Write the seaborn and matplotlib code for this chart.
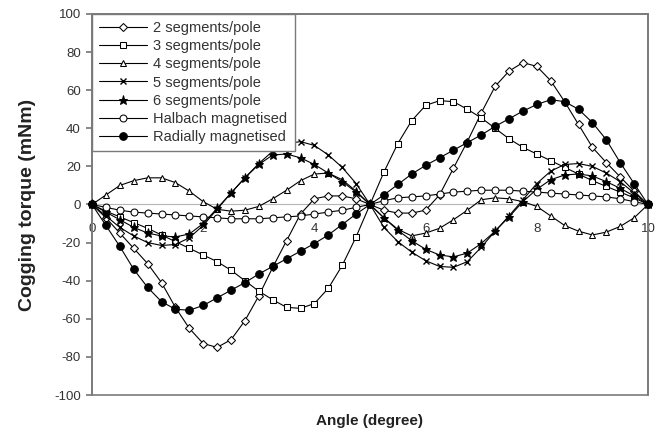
import matplotlib
matplotlib.use("Agg")
import matplotlib.pyplot as plt
from matplotlib.patches import Rectangle
import seaborn as sns

# ---------------- data ----------------
angle = [0, 0.25, 0.5, 0.75, 1.0, 1.25, 1.5, 1.75, 2.0, 2.25, 2.5, 2.75, 3.0, 3.25,
         3.5, 3.75, 4.0, 4.25, 4.5, 4.75, 5.0, 5.25, 5.5, 5.75, 6.0, 6.25, 6.5, 6.75,
         7.0, 7.25, 7.5, 7.75, 8.0, 8.25, 8.5, 8.75, 9.0, 9.25, 9.5, 9.75, 10.0]

seg2 = [0, -7, -15, -23, -31, -41, -54, -65, -73, -75, -71, -61, -48, -33, -19, -5,
        3, 4.5, 4.5, 3, 0, -3, -4.5, -4.5, -3, 5, 19, 33, 48, 62, 70, 74.5, 72.5, 65,
        54, 42, 30, 22, 14.5, 7, 0]
seg3 = [0, -3.5, -6.5, -9.5, -12.5, -16, -19.5, -23, -26.5, -30, -34.5, -40, -45.5,
        -50, -54, -54.5, -52, -44, -32, -17, 0, 17, 32, 44, 52, 54.5, 54, 50, 45.5, 40,
        34.5, 30, 26.5, 23, 19.5, 16, 12.5, 9.5, 6.5, 3.5, 0]
seg4 = [0, 5, 10, 12.5, 14, 14, 11.5, 7, 1.5, -2.5, -3.5, -3, -1, 3, 7.5, 12.5, 16,
        16.5, 13, 7, 0, -7, -13, -16.5, -15, -12.5, -8, -3, 2.5, 3.5, 3, 1.5, -1, -6,
        -11, -14, -16, -14.5, -11.5, -7, 0]
seg5 = [0, -6, -12, -16.5, -20, -21.5, -21, -17.5, -11, -2.5, 6, 14, 21.5, 28, 32,
        33, 31, 26, 19.5, 11, 0, -12, -19.5, -25, -29.5, -32.5, -33, -30, -22.5, -14,
        -6, 2.5, 11, 17.5, 21, 21.5, 20, 16.5, 12, 6, 0]
seg6 = [0, -4, -8, -12, -15, -16.5, -17, -15.5, -10, -2, 6, 14, 21, 26, 26.5, 24.5,
        21, 16.5, 12, 6.5, 0, -7, -13.5, -19, -23.5, -26.5, -27.5, -25.5, -20.5, -14,
        -6.5, 1.5, 8, 13, 15.5, 16, 15, 12, 8.5, 4.5, 0]
halbach = [0, -1.5, -3, -4, -4.5, -5, -5.5, -6, -6.5, -7, -7.5, -7.5, -7.5, -7, -6.5,
           -6, -5, -4, -3, -1.5, 0, 2, 3.5, 4, 4.5, 5.5, 6.5, 7, 7.5, 7.5, 7.5, 7,
           6.5, 6, 5.5, 5, 4.5, 4, 3, 1.5, 0]
radial = [0, -11, -22, -34, -43.5, -51, -55, -55.5, -53, -49, -45, -41, -36.5, -32.5,
          -28.5, -24.5, -20.5, -16, -10.5, -5, 0, 5, 10.5, 16, 20.5, 24.5, 28.5, 32.5,
          36.5, 41, 45, 49, 52.5, 55, 54, 50, 43, 34, 22, 11, 0]

labels = ["2 segments/pole", "3 segments/pole", "4 segments/pole", "5 segments/pole",
          "6 segments/pole", "Halbach magnetised", "Radially magnetised"]
xticks = [0, 2, 4, 6, 8, 10]
yticks = [-100, -80, -60, -40, -20, 0, 20, 40, 60, 80, 100]

# ---------------- style ----------------
sns.set_theme(style="white")
plt.rcParams["font.family"] = ["Liberation Sans", "DejaVu Sans"]

fig = plt.figure(figsize=(6.58, 4.36), dpi=100)
ax = fig.add_axes([92 / 658, 41 / 436, 556 / 658, 381 / 436])

styles = [
    dict(marker="D", markersize=4, markerfacecolor="white"),
    dict(marker="s", markersize=5, markerfacecolor="white"),
    dict(marker="^", markersize=5, markerfacecolor="white"),
    dict(marker="x", markersize=5, markeredgewidth=1.0),
    dict(marker="*", markersize=6.5, markerfacecolor="black"),
    dict(marker="o", markersize=5, markerfacecolor="white"),
    dict(marker="o", markersize=5.5, markerfacecolor="black"),
]
series = [seg2, seg3, seg4, seg5, seg6, halbach, radial]

for vals, lab, st in zip(series, labels, styles):
    sns.lineplot(x=angle, y=vals, ax=ax, color="black", linewidth=0.8,
                 markeredgecolor="black", label=lab, clip_on=False, zorder=3, **st)

ax.set_xlim(0, 10)
ax.set_ylim(-100, 100)

# frame
for s in ["top", "right", "left"]:
    ax.spines[s].set_color("#7a7a7a")
    ax.spines[s].set_linewidth(1.2)
ax.add_patch(Rectangle((0, 0), 1, 1, transform=ax.transAxes, fill=False,
                       ec="#7a7a7a", lw=1.2, clip_on=False, zorder=1))
# x axis crosses at zero
ax.spines["bottom"].set_position(("data", 0))
ax.spines["bottom"].set_color("#b5b5b5")
ax.spines["bottom"].set_linewidth(0.8)
ax.spines["bottom"].set_zorder(1)

ax.set_xticks(xticks)
ax.set_xticklabels([str(t) for t in xticks])
ax.set_yticks(yticks)
ax.set_yticklabels([str(t) for t in yticks])
ax.tick_params(axis="x", direction="out", length=2, color="#b5b5b5",
               labelsize=9.5, labelcolor="#333333", pad=11)
ax.tick_params(axis="y", direction="out", length=4, color="#7a7a7a",
               labelsize=9.5, labelcolor="#333333", pad=4, left=True)

ax.set_xlabel("Angle (degree)", fontsize=11, fontweight="bold", color="#222222")
ax.xaxis.set_label_coords(0.5, -0.05)
ax.set_ylabel("Cogging torque (mNm)", fontsize=14, fontweight="bold", color="#222222")
ax.yaxis.set_label_coords(-0.1, 0.5)

leg = ax.legend(loc="upper left", bbox_to_anchor=(0, 1), borderaxespad=0,
                frameon=True, fancybox=False, edgecolor="#7a7a7a", fontsize=10.5,
                handlelength=3.3, handletextpad=0.4, labelspacing=0.28,
                borderpad=0.5, framealpha=1)
leg.get_frame().set_linewidth(1.0)
for t in leg.get_texts():
    t.set_color("#333333")

fig.savefig("out.png", dpi=100)
